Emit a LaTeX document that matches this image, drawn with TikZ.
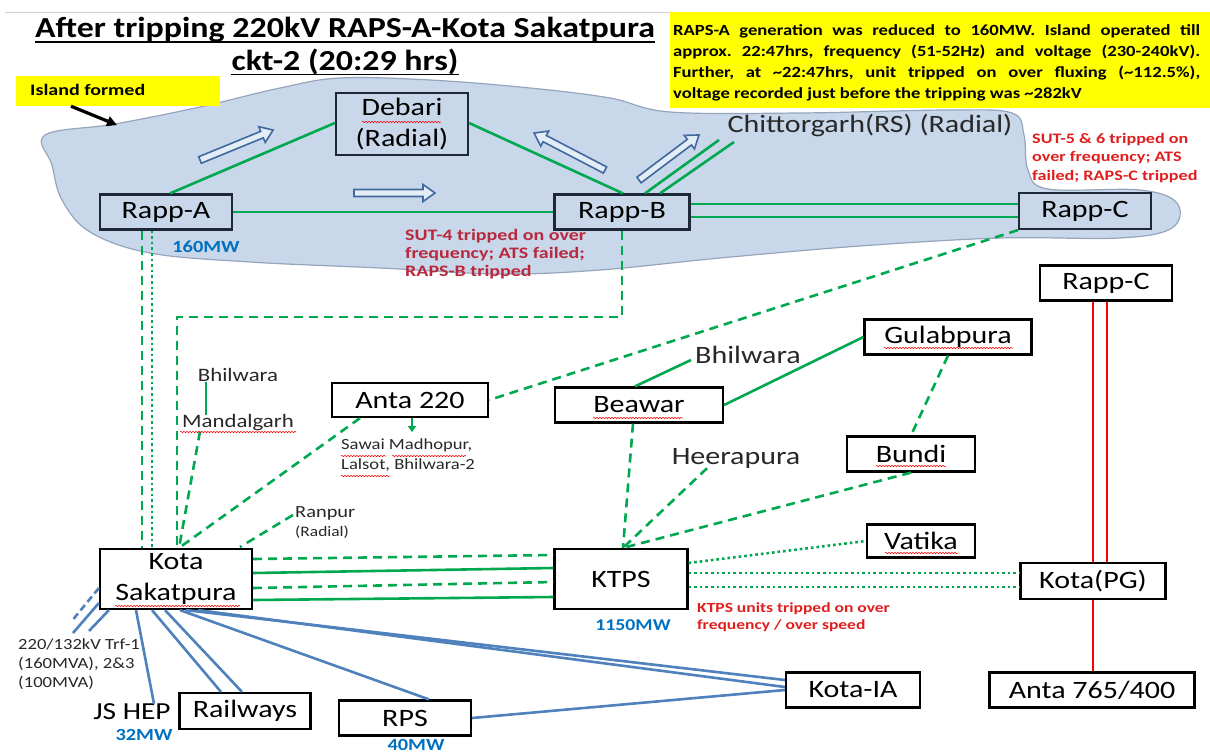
\documentclass[tikz,border=0pt]{standalone}
\usepackage{fontspec}
\setmainfont{Carlito}
\newfontfamily\wfont[FakeStretch=1.2]{Carlito}
\newfontfamily\tfont[FakeStretch=1.17]{Carlito}
\newfontfamily\kfont[FakeStretch=1.25]{Carlito}
\frenchspacing
\usetikzlibrary{calc,decorations.pathmorphing,arrows.meta}
\definecolor{grn}{RGB}{0,168,80}
\definecolor{bl}{RGB}{79,129,189}
\definecolor{mwblue}{RGB}{0,112,192}
\definecolor{cloudfill}{RGB}{200,215,233}
\definecolor{cloudedge}{RGB}{150,165,188}
\definecolor{navy}{RGB}{30,40,55}
\definecolor{sutred}{RGB}{185,40,60}
\definecolor{brred}{RGB}{225,30,30}
\definecolor{txtgray}{RGB}{40,40,40}
\definecolor{arrfill}{RGB}{228,236,246}
\definecolor{arredge}{RGB}{65,105,160}
\definecolor{ylw}{RGB}{255,255,0}
\newcommand{\harrow}[3]{%
  \begin{scope}[shift={#1},rotate=#2]
    \draw[harrowstyle] (0,-3.5)--(#3-12,-3.5)--(#3-12,-8.5)--(#3,0)--(#3-12,8.5)--(#3-12,3.5)--(0,3.5)--cycle;
  \end{scope}}
\tikzset{
  box/.style={draw=black, line width=2.2pt, fill=white, inner sep=0pt, font=\wfont\fontsize{25}{31}\selectfont, align=center},
  ibox/.style={draw=navy, line width=2.2pt, inner sep=0pt, font=\wfont\fontsize{25}{31}\selectfont, align=center},
  gline/.style={draw=grn, line width=2.6pt},
  gdash/.style={gline, dash pattern=on 9pt off 6pt},
  gdot/.style={gline, dash pattern=on 2.6pt off 3pt},
  bline/.style={draw=bl, line width=2.6pt},
  bdash/.style={bline, dash pattern=on 7pt off 4pt},
  rline/.style={draw=red, line width=2.8pt},
  harrowstyle/.style={draw=arredge, line width=1.6pt, fill=arrfill, line join=miter},
  lbl/.style={inner sep=0pt, text=txtgray},
  mw/.style={inner sep=0pt, text=mwblue},
  note/.style={inner sep=0pt, align=left, anchor=north west},
  yl/.style={inner sep=0pt, anchor=base west, font=\wfont\bfseries\fontsize{15.5}{18}\selectfont},
  sq/.style={draw=red, line width=0.5pt, decorate, decoration={snake, amplitude=0.7pt, segment length=3pt}},
  cloud/.style={draw=cloudedge, line width=1.2pt, fill=cloudfill}
}
\begin{document}
\begin{tikzpicture}[x=1pt,y=-1pt]
\useasboundingbox (0,0) rectangle (1210,755);
\fill[white] (0,0) rectangle (1210,755);
% top border line
\draw[black!18, line width=1pt] (5,12) -- (1210,12);
% island
\draw[cloud] plot[smooth cycle, tension=0.6] coordinates {(45,135) (115,124) (200,107) (280,88) (340,78) (430,80) (530,88) (610,98) (670,112) (800,113) (950,110) (1012,113) (1024,135) (1028,170) (1048,189) (1140,190) (1177,203) (1172,228) (1120,238) (1000,238) (860,246) (720,258) (600,270) (500,274) (380,268) (250,262) (150,253) (90,232) (62,200) (52,165)};

% title
\node[inner sep=0pt, font=\tfont\bfseries\fontsize{29}{34}\selectfont] (t1) at (345,30) {After tripping 220kV RAPS-A-Kota Sakatpura};
\node[inner sep=0pt, font=\tfont\bfseries\fontsize{29}{34}\selectfont] (t2) at (345,62) {ckt-2 (20:29 hrs)};
\draw[black, line width=1.6pt] ([yshift=-4pt]t1.base west) -- ([yshift=-4pt]t1.base east);
\draw[black, line width=1.6pt] ([yshift=-4pt]t2.base west) -- ([yshift=-4pt]t2.base east);

% yellow boxes
\fill[ylw] (670,12) rectangle (1210,108);
\node[yl] (y1) at (673,35) {\makebox[527pt][s]{RAPS-A generation was reduced to 160MW. Island operated till}};
\node[yl] (y2) at (673,56) {\makebox[527pt][s]{approx. 22:47hrs, frequency (51-52Hz) and voltage (230-240kV).}};
\node[yl] (y3) at (673,77) {\makebox[527pt][s]{Further, at \textasciitilde22:47hrs, unit tripped on over fluxing (\textasciitilde112.5\%),}};
\node[yl] (y4) at (673,98) {voltage recorded just before the tripping was \textasciitilde282kV};
\node[fill=ylw, minimum width=204pt, minimum height=30pt, inner sep=0pt] (isl) at (118,91) {};
\node[inner sep=0pt, anchor=west, font=\kfont\bfseries\fontsize{16}{18}\selectfont] (islt) at (30,90) {Island formed};
\coordinate (cloudpt) at (117,125);
\draw[black, line width=3.2pt, -{Triangle[length=10pt,width=10pt]}] ([xshift=-47pt]isl.south) -- (cloudpt);

% island nodes
\node[ibox, minimum width=132pt, minimum height=62pt] (debari) at (402,124) {Debari\\(Radial)};
\node[ibox, minimum width=132pt, minimum height=35pt] (rappA) at (166,212) {Rapp-A};
\node[ibox, minimum width=135pt, minimum height=35pt] (rappB) at (622,212) {Rapp-B};
\node[ibox, minimum width=132pt, minimum height=36pt] (rappC) at (1085,211) {Rapp-C};
\node[lbl, font=\wfont\fontsize{25}{29}\selectfont] (chitt) at (870,126) {Chittorgarh(RS) (Radial)};
\coordinate (c1) at (719,140);
\coordinate (c2) at (734,142);

% hollow arrows
\harrow{(200,160)}{22.3}{79}
\harrow{(354,193)}{0}{81}
\harrow{(605,170)}{152.5}{80}
\harrow{(639,180)}{36.9}{75}

% island connectors
\draw[gline] ([xshift=4pt]rappA.north) -- ([yshift=1pt]debari.west);
\draw[gline] ([yshift=1pt]debari.east) -- ([xshift=1pt]rappB.north);
\draw[gline] (rappA.east) -- (rappB.west);
\draw[gline] ([xshift=23pt]rappB.north) -- (c1);
\draw[gline] ([xshift=38pt]rappB.north) -- (c2);
\draw[gline] ([yshift=8pt]rappB.east) -- ([yshift=7pt]rappC.west);
\draw[gline] ([yshift=-5pt]rappB.east) -- ([yshift=-6pt]rappC.west);

\node[mw, font=\wfont\bfseries\fontsize{17}{19}\selectfont] (mw160) at (206,247) {160MW};
\node[note, text=sutred, font=\kfont\bfseries\fontsize{16}{18}\selectfont] (sut4) at (405,229) {SUT-4 tripped on over\\frequency; ATS failed;\\RAPS-B tripped};
\node[note, text=brred, font=\kfont\bfseries\fontsize{14.5}{18.5}\selectfont] (sut56) at (1032,133) {SUT-5 \& 6 tripped on\\over frequency; ATS\\failed; RAPS-C tripped};

% other nodes
\node[box, minimum width=132pt, minimum height=35pt] (rappC2) at (1106,283) {Rapp-C};
\node[box, minimum width=167pt, minimum height=35pt] (gul) at (948,337) {Gulabpura};
\node[box, minimum width=168pt, minimum height=35pt] (beawar) at (639,405) {Beawar};
\node[box, minimum width=156pt, minimum height=34pt] (anta) at (410,400) {Anta 220};
\node[box, minimum width=128pt, minimum height=35pt] (bundi) at (911,454) {Bundi};
\node[box, minimum width=108pt, minimum height=33pt] (vatika) at (921,541) {Vatika};
\node[box, minimum width=152pt, minimum height=60pt] (kotaS) at (176,579) {Kota\\Sakatpura};
\node[box, minimum width=133pt, minimum height=60pt] (ktps) at (621,579) {KTPS};
\node[box, minimum width=145pt, minimum height=36pt] (kotaPG) at (1093,581) {Kota(PG)};
\node[box, minimum width=131pt, minimum height=36pt] (railways) at (245,711) {Railways};
\node[box, minimum width=132pt, minimum height=35pt] (rps) at (405,718) {RPS};
\node[box, minimum width=134pt, minimum height=35pt] (kotaIA) at (853,690) {Kota-IA};
\node[box, minimum width=205pt, minimum height=35pt] (anta765) at (1092,690) {Anta 765/400};

% text labels
\node[lbl, font=\wfont\fontsize{19}{22}\selectfont] (bhilL) at (238,375) {Bhilwara};
\node[lbl, font=\wfont\fontsize{19}{22}\selectfont] (mandal) at (238,423) {Mandalgarh};
\node[lbl, font=\wfont\fontsize{15.5}{20}\selectfont, anchor=north west, align=left] (sawai) at (341,439) {Sawai Madhopur,\\Lalsot, Bhilwara-2};
\node[lbl, font=\wfont\fontsize{25}{29}\selectfont] (heera) at (736,458) {Heerapura};
\node[lbl, font=\wfont\fontsize{25}{29}\selectfont] (bhilM) at (748,355) {Bhilwara};
\node[lbl, font=\wfont\fontsize{17}{19}\selectfont, anchor=west] (ranpur) at (295,513) {Ranpur};
\node[lbl, font=\wfont\fontsize{14.5}{17}\selectfont, anchor=west] (ranrad) at (295,532) {(Radial)};
\node[lbl, font=\wfont\fontsize{15.5}{19}\selectfont, anchor=north west, align=left] (trf) at (18,639) {220/132kV Trf-1\\(160MVA), 2\&3\\(100MVA)};
\node[lbl, text=black, font=\wfont\fontsize{24.5}{30}\selectfont] (jshep) at (132,712) {JS HEP};
\node[mw, font=\wfont\bfseries\fontsize{17}{19}\selectfont] (mw32) at (144,735) {32MW};
\node[mw, font=\wfont\bfseries\fontsize{17}{19}\selectfont] (mw40) at (416,745) {40MW};
\node[mw, font=\wfont\bfseries\fontsize{16.5}{19}\selectfont] (mw1150) at (633,625) {1150MW};
\node[note, text=brred, font=\kfont\bfseries\fontsize{14}{17.5}\selectfont] (ktpsnote) at (697,602) {KTPS units tripped on over\\frequency / over speed};

% green connectors: island to mainland
\draw[gdash] ([xshift=-24pt]rappA.south) -- ([xshift=-34pt]kotaS.north);
\draw[gdot] ([xshift=-14pt]rappA.south) -- ([xshift=-24pt]kotaS.north);
\coordinate (bend) at (177,317);
\draw[gdash] (rappB.south) |- (bend) -- ([xshift=1pt]kotaS.north);
\draw[gdash] (rappC.south west) -- (anta.east);
\draw[gline] ([xshift=-32pt]bhilL.south) -- ([xshift=-32pt]mandal.north);
\draw[gdash] ([xshift=-38pt]mandal.south) -- ([xshift=3pt]kotaS.north);
\draw[gdash] ([xshift=-50pt]anta.south) -- ([xshift=3pt]kotaS.north);
\coordinate (ranEnd) at (240,547);
\draw[gdash] ([xshift=-2pt,yshift=-2pt]ranpur.west) -- (ranEnd);
\draw[grn, line width=2pt, -{Triangle[length=6pt,width=8pt]}] ([xshift=2pt]anta.south) -- ++(0,14);

% Beawar / KTPS group
\draw[gline] ([xshift=-4pt,yshift=4pt]bhilM.south west) -- ([xshift=-4pt]beawar.north);
\draw[gline] (beawar.east) -- (gul.west);
\draw[gdash] (gul.south) -- (bundi.north);
\draw[gdash] ([xshift=-6pt]beawar.south) -- ([xshift=2pt]ktps.north);
\draw[gdash] ([xshift=-29pt]heera.south) -- ([xshift=2pt]ktps.north);
\draw[gdash] (bundi.south) -- ([xshift=2pt]ktps.north);

% Kota Sakatpura - KTPS
\draw[gdash] ([yshift=20pt]kotaS.east) -- ([yshift=24pt]ktps.west);
\draw[gline] ([yshift=6pt]kotaS.east) -- ([yshift=11pt]ktps.west);
\draw[gdash] ([yshift=-9pt]kotaS.east) -- ([yshift=-3pt]ktps.west);
\draw[gline] ([yshift=-21pt]kotaS.east) -- ([yshift=-18pt]ktps.west);

% KTPS - Vatika / Kota(PG)
\draw[gdot] ([yshift=16pt]ktps.east) -- (vatika.west);
\draw[gdot] ([yshift=6pt]ktps.east) -- ([yshift=8pt]kotaPG.west);
\draw[gdot] ([yshift=-8pt]ktps.east) -- ([yshift=-6pt]kotaPG.west);

% red lines
\draw[rline] ([xshift=-13pt]rappC2.south) -- ([xshift=0pt]kotaPG.north);
\draw[rline] ([xshift=1pt]rappC2.south) -- ([xshift=14pt]kotaPG.north);
\draw[rline] (kotaPG.south) -- ([xshift=1pt]anta765.north);

% blue lines
\coordinate (tA) at (71,622);
\coordinate (tB) at (73,633);
\coordinate (tC) at (89,631);
\draw[bdash] ([yshift=-9pt]kotaS.west) -- (tA);
\draw[bline] ([yshift=-24pt]kotaS.west) -- (tB);
\draw[bline] ([xshift=10pt]kotaS.south west) -- (tC);
\draw[bline] ([xshift=-40pt]kotaS.south) -- ([xshift=22pt]jshep.north);
\draw[bline] ([xshift=-24pt]kotaS.south) -- ([xshift=-24pt]railways.north);
\draw[bline] ([xshift=-11pt]kotaS.south) -- ([xshift=-3pt]railways.north);
\draw[bline] ([xshift=4pt]kotaS.south) -- ([xshift=24pt]rps.north);
\draw[bline] ([xshift=10pt]kotaS.south) -- ([yshift=10pt]kotaIA.west);
\draw[bline] ([xshift=22pt]kotaS.south) -- ([yshift=3pt]kotaIA.west);
\draw[bline] (rps.east) -- (kotaIA.west);

% spell-check squiggles
\draw[sq] (362,122) -- (441,122);
\draw[sq] (180,432) -- (296,432);
\draw[sq] (341,456) -- (386,456);
\draw[sq] (392,456) -- (466,456);
\draw[sq] (341,476) -- (390,476);
\draw[sq] (593,418) -- (683,418);
\draw[sq] (884,348) -- (1013,348);
\draw[sq] (876,466) -- (946,466);
\draw[sq] (885,553) -- (958,553);
\draw[sq] (115,606) -- (240,606);
\end{tikzpicture}
\end{document}
